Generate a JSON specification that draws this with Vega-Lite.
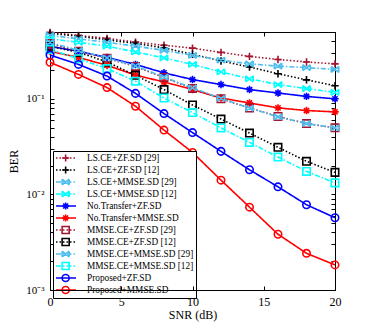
{
  "$schema": "https://vega.github.io/schema/vega-lite/v6.json",
  "width": 285,
  "height": 258,
  "autosize": {"type": "none"},
  "padding": {"left": 50, "top": 32, "right": 37, "bottom": 39},
  "background": "white",
  "config": {
    "view": {"stroke": "black", "strokeWidth": 1},
    "font": "Liberation Serif",
    "axis": {"grid": false, "domainColor": "black", "tickColor": "black", "labelColor": "black", "titleColor": "black", "labelFont": "Liberation Serif", "titleFont": "Liberation Serif", "titleFontWeight": "normal", "tickSize": -4, "domainWidth": 1, "tickWidth": 1}
  },
  "data": {"values": [
    {"series": "LS.CE+ZF.SD [29]", "snr": 0, "ber": 0.496}, {"series": "LS.CE+ZF.SD [29]", "snr": 2, "ber": 0.461}, {"series": "LS.CE+ZF.SD [29]", "snr": 4, "ber": 0.429}, {"series": "LS.CE+ZF.SD [29]", "snr": 6, "ber": 0.392}, {"series": "LS.CE+ZF.SD [29]", "snr": 8, "ber": 0.363}, {"series": "LS.CE+ZF.SD [29]", "snr": 10, "ber": 0.339}, {"series": "LS.CE+ZF.SD [29]", "snr": 12, "ber": 0.306}, {"series": "LS.CE+ZF.SD [29]", "snr": 14, "ber": 0.278}, {"series": "LS.CE+ZF.SD [29]", "snr": 16, "ber": 0.258}, {"series": "LS.CE+ZF.SD [29]", "snr": 18, "ber": 0.243}, {"series": "LS.CE+ZF.SD [29]", "snr": 20, "ber": 0.232},
    {"series": "LS.CE+ZF.SD [12]", "snr": 0, "ber": 0.484}, {"series": "LS.CE+ZF.SD [12]", "snr": 2, "ber": 0.451}, {"series": "LS.CE+ZF.SD [12]", "snr": 4, "ber": 0.414}, {"series": "LS.CE+ZF.SD [12]", "snr": 6, "ber": 0.380}, {"series": "LS.CE+ZF.SD [12]", "snr": 8, "ber": 0.341}, {"series": "LS.CE+ZF.SD [12]", "snr": 10, "ber": 0.292}, {"series": "LS.CE+ZF.SD [12]", "snr": 12, "ber": 0.249}, {"series": "LS.CE+ZF.SD [12]", "snr": 14, "ber": 0.215}, {"series": "LS.CE+ZF.SD [12]", "snr": 16, "ber": 0.183}, {"series": "LS.CE+ZF.SD [12]", "snr": 18, "ber": 0.158}, {"series": "LS.CE+ZF.SD [12]", "snr": 20, "ber": 0.137},
    {"series": "LS.CE+MMSE.SD [29]", "snr": 0, "ber": 0.461}, {"series": "LS.CE+MMSE.SD [29]", "snr": 2, "ber": 0.424}, {"series": "LS.CE+MMSE.SD [29]", "snr": 4, "ber": 0.390}, {"series": "LS.CE+MMSE.SD [29]", "snr": 6, "ber": 0.356}, {"series": "LS.CE+MMSE.SD [29]", "snr": 8, "ber": 0.321}, {"series": "LS.CE+MMSE.SD [29]", "snr": 10, "ber": 0.285}, {"series": "LS.CE+MMSE.SD [29]", "snr": 12, "ber": 0.254}, {"series": "LS.CE+MMSE.SD [29]", "snr": 14, "ber": 0.232}, {"series": "LS.CE+MMSE.SD [29]", "snr": 16, "ber": 0.220}, {"series": "LS.CE+MMSE.SD [29]", "snr": 18, "ber": 0.212}, {"series": "LS.CE+MMSE.SD [29]", "snr": 20, "ber": 0.203},
    {"series": "LS.CE+MMSE.SD [12]", "snr": 0, "ber": 0.425}, {"series": "LS.CE+MMSE.SD [12]", "snr": 2, "ber": 0.390}, {"series": "LS.CE+MMSE.SD [12]", "snr": 4, "ber": 0.355}, {"series": "LS.CE+MMSE.SD [12]", "snr": 6, "ber": 0.309}, {"series": "LS.CE+MMSE.SD [12]", "snr": 8, "ber": 0.268}, {"series": "LS.CE+MMSE.SD [12]", "snr": 10, "ber": 0.229}, {"series": "LS.CE+MMSE.SD [12]", "snr": 12, "ber": 0.191}, {"series": "LS.CE+MMSE.SD [12]", "snr": 14, "ber": 0.162}, {"series": "LS.CE+MMSE.SD [12]", "snr": 16, "ber": 0.141}, {"series": "LS.CE+MMSE.SD [12]", "snr": 18, "ber": 0.128}, {"series": "LS.CE+MMSE.SD [12]", "snr": 20, "ber": 0.117},
    {"series": "No.Transfer+ZF.SD", "snr": 0, "ber": 0.354}, {"series": "No.Transfer+ZF.SD", "snr": 2, "ber": 0.314}, {"series": "No.Transfer+ZF.SD", "snr": 4, "ber": 0.271}, {"series": "No.Transfer+ZF.SD", "snr": 6, "ber": 0.229}, {"series": "No.Transfer+ZF.SD", "snr": 8, "ber": 0.187}, {"series": "No.Transfer+ZF.SD", "snr": 10, "ber": 0.159}, {"series": "No.Transfer+ZF.SD", "snr": 12, "ber": 0.141}, {"series": "No.Transfer+ZF.SD", "snr": 14, "ber": 0.125}, {"series": "No.Transfer+ZF.SD", "snr": 16, "ber": 0.115}, {"series": "No.Transfer+ZF.SD", "snr": 18, "ber": 0.106}, {"series": "No.Transfer+ZF.SD", "snr": 20, "ber": 0.100},
    {"series": "No.Transfer+MMSE.SD", "snr": 0, "ber": 0.314}, {"series": "No.Transfer+MMSE.SD", "snr": 2, "ber": 0.271}, {"series": "No.Transfer+MMSE.SD", "snr": 4, "ber": 0.224}, {"series": "No.Transfer+MMSE.SD", "snr": 6, "ber": 0.177}, {"series": "No.Transfer+MMSE.SD", "snr": 8, "ber": 0.150}, {"series": "No.Transfer+MMSE.SD", "snr": 10, "ber": 0.125}, {"series": "No.Transfer+MMSE.SD", "snr": 12, "ber": 0.102}, {"series": "No.Transfer+MMSE.SD", "snr": 14, "ber": 0.0904}, {"series": "No.Transfer+MMSE.SD", "snr": 16, "ber": 0.0804}, {"series": "No.Transfer+MMSE.SD", "snr": 18, "ber": 0.0754}, {"series": "No.Transfer+MMSE.SD", "snr": 20, "ber": 0.0730},
    {"series": "MMSE.CE+ZF.SD [29]", "snr": 0, "ber": 0.380}, {"series": "MMSE.CE+ZF.SD [29]", "snr": 2, "ber": 0.314}, {"series": "MMSE.CE+ZF.SD [29]", "snr": 4, "ber": 0.265}, {"series": "MMSE.CE+ZF.SD [29]", "snr": 6, "ber": 0.218}, {"series": "MMSE.CE+ZF.SD [29]", "snr": 8, "ber": 0.167}, {"series": "MMSE.CE+ZF.SD [29]", "snr": 10, "ber": 0.128}, {"series": "MMSE.CE+ZF.SD [29]", "snr": 12, "ber": 0.100}, {"series": "MMSE.CE+ZF.SD [29]", "snr": 14, "ber": 0.0800}, {"series": "MMSE.CE+ZF.SD [29]", "snr": 16, "ber": 0.0653}, {"series": "MMSE.CE+ZF.SD [29]", "snr": 18, "ber": 0.0551}, {"series": "MMSE.CE+ZF.SD [29]", "snr": 20, "ber": 0.0497},
    {"series": "MMSE.CE+ZF.SD [12]", "snr": 0, "ber": 0.354}, {"series": "MMSE.CE+ZF.SD [12]", "snr": 2, "ber": 0.306}, {"series": "MMSE.CE+ZF.SD [12]", "snr": 4, "ber": 0.243}, {"series": "MMSE.CE+ZF.SD [12]", "snr": 6, "ber": 0.176}, {"series": "MMSE.CE+ZF.SD [12]", "snr": 8, "ber": 0.125}, {"series": "MMSE.CE+ZF.SD [12]", "snr": 10, "ber": 0.0861}, {"series": "MMSE.CE+ZF.SD [12]", "snr": 12, "ber": 0.0614}, {"series": "MMSE.CE+ZF.SD [12]", "snr": 14, "ber": 0.0438}, {"series": "MMSE.CE+ZF.SD [12]", "snr": 16, "ber": 0.0311}, {"series": "MMSE.CE+ZF.SD [12]", "snr": 18, "ber": 0.0222}, {"series": "MMSE.CE+ZF.SD [12]", "snr": 20, "ber": 0.0170},
    {"series": "MMSE.CE+MMSE.SD [29]", "snr": 0, "ber": 0.390}, {"series": "MMSE.CE+MMSE.SD [29]", "snr": 2, "ber": 0.321}, {"series": "MMSE.CE+MMSE.SD [29]", "snr": 4, "ber": 0.268}, {"series": "MMSE.CE+MMSE.SD [29]", "snr": 6, "ber": 0.221}, {"series": "MMSE.CE+MMSE.SD [29]", "snr": 8, "ber": 0.169}, {"series": "MMSE.CE+MMSE.SD [29]", "snr": 10, "ber": 0.130}, {"series": "MMSE.CE+MMSE.SD [29]", "snr": 12, "ber": 0.101}, {"series": "MMSE.CE+MMSE.SD [29]", "snr": 14, "ber": 0.0800}, {"series": "MMSE.CE+MMSE.SD [29]", "snr": 16, "ber": 0.0648}, {"series": "MMSE.CE+MMSE.SD [29]", "snr": 18, "ber": 0.0551}, {"series": "MMSE.CE+MMSE.SD [29]", "snr": 20, "ber": 0.0497},
    {"series": "MMSE.CE+MMSE.SD [12]", "snr": 0, "ber": 0.329}, {"series": "MMSE.CE+MMSE.SD [12]", "snr": 2, "ber": 0.263}, {"series": "MMSE.CE+MMSE.SD [12]", "snr": 4, "ber": 0.207}, {"series": "MMSE.CE+MMSE.SD [12]", "snr": 6, "ber": 0.153}, {"series": "MMSE.CE+MMSE.SD [12]", "snr": 8, "ber": 0.102}, {"series": "MMSE.CE+MMSE.SD [12]", "snr": 10, "ber": 0.0718}, {"series": "MMSE.CE+MMSE.SD [12]", "snr": 12, "ber": 0.0496}, {"series": "MMSE.CE+MMSE.SD [12]", "snr": 14, "ber": 0.0350}, {"series": "MMSE.CE+MMSE.SD [12]", "snr": 16, "ber": 0.0246}, {"series": "MMSE.CE+MMSE.SD [12]", "snr": 18, "ber": 0.0174}, {"series": "MMSE.CE+MMSE.SD [12]", "snr": 20, "ber": 0.0132},
    {"series": "Proposed+ZF.SD", "snr": 0, "ber": 0.287}, {"series": "Proposed+ZF.SD", "snr": 2, "ber": 0.229}, {"series": "Proposed+ZF.SD", "snr": 4, "ber": 0.173}, {"series": "Proposed+ZF.SD", "snr": 6, "ber": 0.114}, {"series": "Proposed+ZF.SD", "snr": 8, "ber": 0.0701}, {"series": "Proposed+ZF.SD", "snr": 10, "ber": 0.0443}, {"series": "Proposed+ZF.SD", "snr": 12, "ber": 0.0282}, {"series": "Proposed+ZF.SD", "snr": 14, "ber": 0.0181}, {"series": "Proposed+ZF.SD", "snr": 16, "ber": 0.0120}, {"series": "Proposed+ZF.SD", "snr": 18, "ber": 0.0078}, {"series": "Proposed+ZF.SD", "snr": 20, "ber": 0.0057},
    {"series": "Proposed+MMSE.SD", "snr": 0, "ber": 0.241}, {"series": "Proposed+MMSE.SD", "snr": 2, "ber": 0.180}, {"series": "Proposed+MMSE.SD", "snr": 4, "ber": 0.131}, {"series": "Proposed+MMSE.SD", "snr": 6, "ber": 0.0836}, {"series": "Proposed+MMSE.SD", "snr": 8, "ber": 0.0471}, {"series": "Proposed+MMSE.SD", "snr": 10, "ber": 0.0275}, {"series": "Proposed+MMSE.SD", "snr": 12, "ber": 0.0141}, {"series": "Proposed+MMSE.SD", "snr": 14, "ber": 0.00736}, {"series": "Proposed+MMSE.SD", "snr": 16, "ber": 0.00383}, {"series": "Proposed+MMSE.SD", "snr": 18, "ber": 0.00242}, {"series": "Proposed+MMSE.SD", "snr": 20, "ber": 0.00183}
  ]},
  "layer": [
    {
      "mark": {"type": "line", "strokeWidth": 1.6},
      "encoding": {
        "x": {"field": "snr", "type": "quantitative", "scale": {"domain": [0, 20], "nice": false}, "axis": {"values": [0, 5, 10, 15, 20], "title": "SNR (dB)", "labelFontSize": 12, "titleFontSize": 12, "labelPadding": 10, "titlePadding": 2, "labelOverlap": false, "labelBound": false, "labelFlush": false, "zindex": 1}},
        "y": {"field": "ber", "type": "quantitative", "scale": {"type": "log", "domain": [0.001, 0.5], "nice": false}, "axis": {"values": [0.001, 0.002, 0.003, 0.004, 0.005, 0.006, 0.007, 0.008, 0.009, 0.01, 0.02, 0.03, 0.04, 0.05, 0.06, 0.07, 0.08, 0.09, 0.1, 0.2, 0.3, 0.4, 0.5], "labelExpr": "datum.value == 0.001 ? '10⁻³' : datum.value == 0.01 ? '10⁻²' : datum.value == 0.1 ? '10⁻¹' : ''", "title": "BER", "labelFontSize": 11, "titleFontSize": 12, "labelPadding": 10, "titlePadding": 5, "labelOverlap": false}},
        "color": {"field": "series", "type": "nominal",
          "scale": {"domain": ["LS.CE+ZF.SD [29]", "LS.CE+ZF.SD [12]", "LS.CE+MMSE.SD [29]", "LS.CE+MMSE.SD [12]", "No.Transfer+ZF.SD", "No.Transfer+MMSE.SD", "MMSE.CE+ZF.SD [29]", "MMSE.CE+ZF.SD [12]", "MMSE.CE+MMSE.SD [29]", "MMSE.CE+MMSE.SD [12]", "Proposed+ZF.SD", "Proposed+MMSE.SD"],
                    "range": ["#A2142F", "#000000", "#4DBEEE", "#00FFFF", "#0000FF", "#FF0000", "#A2142F", "#000000", "#4DBEEE", "#00FFFF", "#0000FF", "#FF0000"]},
          "legend": {"orient": "none", "legendX": 3, "legendY": 119, "title": null, "symbolType": "stroke", "symbolSize": 400, "symbolStrokeWidth": 1.6, "labelFont": "Liberation Serif", "labelFontSize": 9.3, "labelColor": "black", "padding": 2, "rowPadding": 1, "clipHeight": 10, "strokeColor": "black", "fillColor": "white", "labelOffset": 10, "labelLimit": 200}},
        "strokeDash": {"field": "series", "type": "nominal",
          "scale": {"domain": ["LS.CE+ZF.SD [29]", "LS.CE+ZF.SD [12]", "LS.CE+MMSE.SD [29]", "LS.CE+MMSE.SD [12]", "No.Transfer+ZF.SD", "No.Transfer+MMSE.SD", "MMSE.CE+ZF.SD [29]", "MMSE.CE+ZF.SD [12]", "MMSE.CE+MMSE.SD [29]", "MMSE.CE+MMSE.SD [12]", "Proposed+ZF.SD", "Proposed+MMSE.SD"],
                    "range": [[1.5, 2], [1.5, 2], [5, 2, 1.5, 2], [5, 2, 1.5, 2], [1, 0], [1, 0], [1.5, 2], [1.5, 2], [5, 2, 1.5, 2], [5, 2, 1.5, 2], [1, 0], [1, 0]]},
          "legend": {"orient": "none", "legendX": 3, "legendY": 119, "title": null, "symbolType": "stroke", "symbolSize": 400, "symbolStrokeWidth": 1.6, "labelFont": "Liberation Serif", "labelFontSize": 9.3, "labelColor": "black", "padding": 2, "rowPadding": 1, "clipHeight": 10, "strokeColor": "black", "fillColor": "white", "labelOffset": 10, "labelLimit": 200}}
      }
    },
    {
      "mark": {"type": "point", "filled": false, "size": 55, "strokeWidth": 1.6, "opacity": 1},
      "encoding": {
        "x": {"field": "snr", "type": "quantitative", "scale": {"domain": [0, 20], "nice": false}, "axis": null},
        "y": {"field": "ber", "type": "quantitative", "scale": {"type": "log", "domain": [0.001, 0.5], "nice": false}, "axis": null},
        "color": {"field": "series", "type": "nominal",
          "legend": {"orient": "none", "legendX": 9, "legendY": 119, "title": null, "symbolSize": 50, "symbolStrokeWidth": 1.6, "labelExpr": "''", "labelFontSize": 9.3, "padding": 2, "rowPadding": 1, "clipHeight": 10, "labelOffset": 10, "fillColor": "transparent", "strokeColor": "transparent"}},
        "shape": {"field": "series", "type": "nominal",
          "scale": {"domain": ["LS.CE+ZF.SD [29]", "LS.CE+ZF.SD [12]", "LS.CE+MMSE.SD [29]", "LS.CE+MMSE.SD [12]", "No.Transfer+ZF.SD", "No.Transfer+MMSE.SD", "MMSE.CE+ZF.SD [29]", "MMSE.CE+ZF.SD [12]", "MMSE.CE+MMSE.SD [29]", "MMSE.CE+MMSE.SD [12]", "Proposed+ZF.SD", "Proposed+MMSE.SD"],
                    "range": ["M-1,0L1,0M0,-1L0,1", "M-1,0L1,0M0,-1L0,1", "M-1,-0.8L1,0.8M-1,0.8L1,-0.8M-1,-0.8L-1,0.8M1,-0.8L1,0.8", "M-1,-0.8L1,0.8M-1,0.8L1,-0.8M-1,-0.8L-1,0.8M1,-0.8L1,0.8", "M-1,0L1,0M0,-1L0,1M-0.7,-0.7L0.7,0.7M-0.7,0.7L0.7,-0.7", "M-1,0L1,0M0,-1L0,1M-0.7,-0.7L0.7,0.7M-0.7,0.7L0.7,-0.7", "square", "square", "M-1,-0.8L1,0.8M-1,0.8L1,-0.8M-1,-0.8L-1,0.8M1,-0.8L1,0.8", "square", "circle", "circle"]},
          "legend": {"orient": "none", "legendX": 9, "legendY": 119, "title": null, "symbolSize": 50, "symbolStrokeWidth": 1.6, "labelExpr": "''", "labelFontSize": 9.3, "padding": 2, "rowPadding": 1, "clipHeight": 10, "labelOffset": 10, "fillColor": "transparent", "strokeColor": "transparent"}}
      }
    },
    {
      "mark": {"type": "point", "opacity": 0},
      "encoding": {
        "x": {"field": "snr", "type": "quantitative", "scale": {"domain": [0, 20], "nice": false}, "axis": {"orient": "top", "values": [0, 5, 10, 15, 20], "labels": false, "title": null, "domain": false}},
        "y": {"field": "ber", "type": "quantitative", "scale": {"type": "log", "domain": [0.001, 0.5], "nice": false}, "axis": {"orient": "right", "values": [0.001, 0.002, 0.003, 0.004, 0.005, 0.006, 0.007, 0.008, 0.009, 0.01, 0.02, 0.03, 0.04, 0.05, 0.06, 0.07, 0.08, 0.09, 0.1, 0.2, 0.3, 0.4, 0.5], "labels": false, "title": null, "domain": false}}
      }
    }
  ],
  "resolve": {"scale": {"x": "independent", "y": "independent"}, "legend": {"color": "independent", "shape": "independent", "strokeDash": "independent"}}
}
